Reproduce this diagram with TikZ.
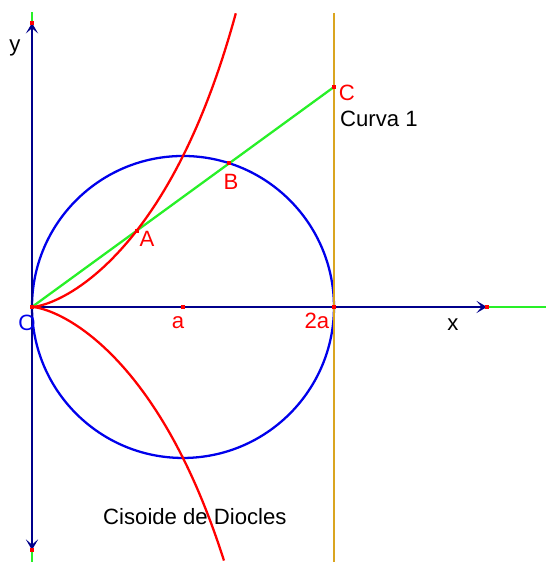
\documentclass[tikz,border=0pt]{standalone}
\usepackage{fontspec}
\setmainfont{Liberation Sans}
\usetikzlibrary{arrows.meta}
\definecolor{cnavy}{RGB}{0,0,139}
\definecolor{cblue}{RGB}{0,0,235}
\definecolor{cred}{RGB}{255,0,0}
\definecolor{cgreen}{RGB}{40,240,40}
\definecolor{cgold}{RGB}{218,165,32}
\tikzset{cisoide/.style={x=3.02cm,y=3.02cm,line width=1.3pt,font=\fontsize{12.6}{15}\selectfont,
    >={Stealth[length=6pt,width=7pt,inset=3pt]}},
  pto/.style={rectangle,fill=cred,inner sep=0pt,minimum size=0.08cm}}

\begin{document}
\begin{tikzpicture}[cisoide]
    \useasboundingbox (-0.2119,-1.689) rectangle (3.404,2.033);
    \coordinate (O) at (0,0);
    \coordinate (ya) at (0,1.881);  \coordinate (yb) at (0,-1.609);
    \coordinate (xa) at (3.013,0);
    \coordinate (M) at (1,0);       \coordinate (D) at (2,0);
    \coordinate (C) at (2,1.457);
    \coordinate (A) at (0.6934,0.5051);
    \coordinate (B) at (1.3066,0.9519);
    % extremos verdes de los ejes
    \draw[cgreen] (0,1.954) -- (ya);
    \draw[cgreen] (yb) -- (0,-1.689);
    \draw[cgreen] (xa) -- (3.404,0);
    \draw[cblue] (M) circle (1);
    \draw[cnavy,->] (O) -- (ya);
    \draw[cnavy,->] (O) -- (yb);
    \draw[cnavy,->] (O) -- (xa);
    \draw[cgold] (2,1.947) -- (2,-1.689);
    \draw[cgreen] (O) -- (C);
    \draw[cred] plot[domain=-1.321:1.441,samples=120,variable=\t]
        ({2*\t*\t/(1+\t*\t)},{2*\t*\t*\t/(1+\t*\t)});
    \foreach \p in {O,ya,yb,xa,M,D,C,A,B} \node[pto] at (\p) {};
    \node[cblue] at (-0.033,-0.106) {O};
    \node[cred] at (0.967,-0.106) {a};
    \node[cred] at (1.887,-0.093) {2a};
    \node[cred] at (2.086,1.417) {C};
    \node[cred] at (0.762,0.450) {A};
    \node[cred] at (1.318,0.828) {B};
    \node[anchor=west,inner sep=0pt] at (2.033,1.245) {Curva 1};
    \node at (-0.113,1.715) {y};
    \node at (2.788,-0.119) {x};
    \node at (1.079,-1.391) {Cisoide de Diocles};
  \end{tikzpicture}
\end{document}
